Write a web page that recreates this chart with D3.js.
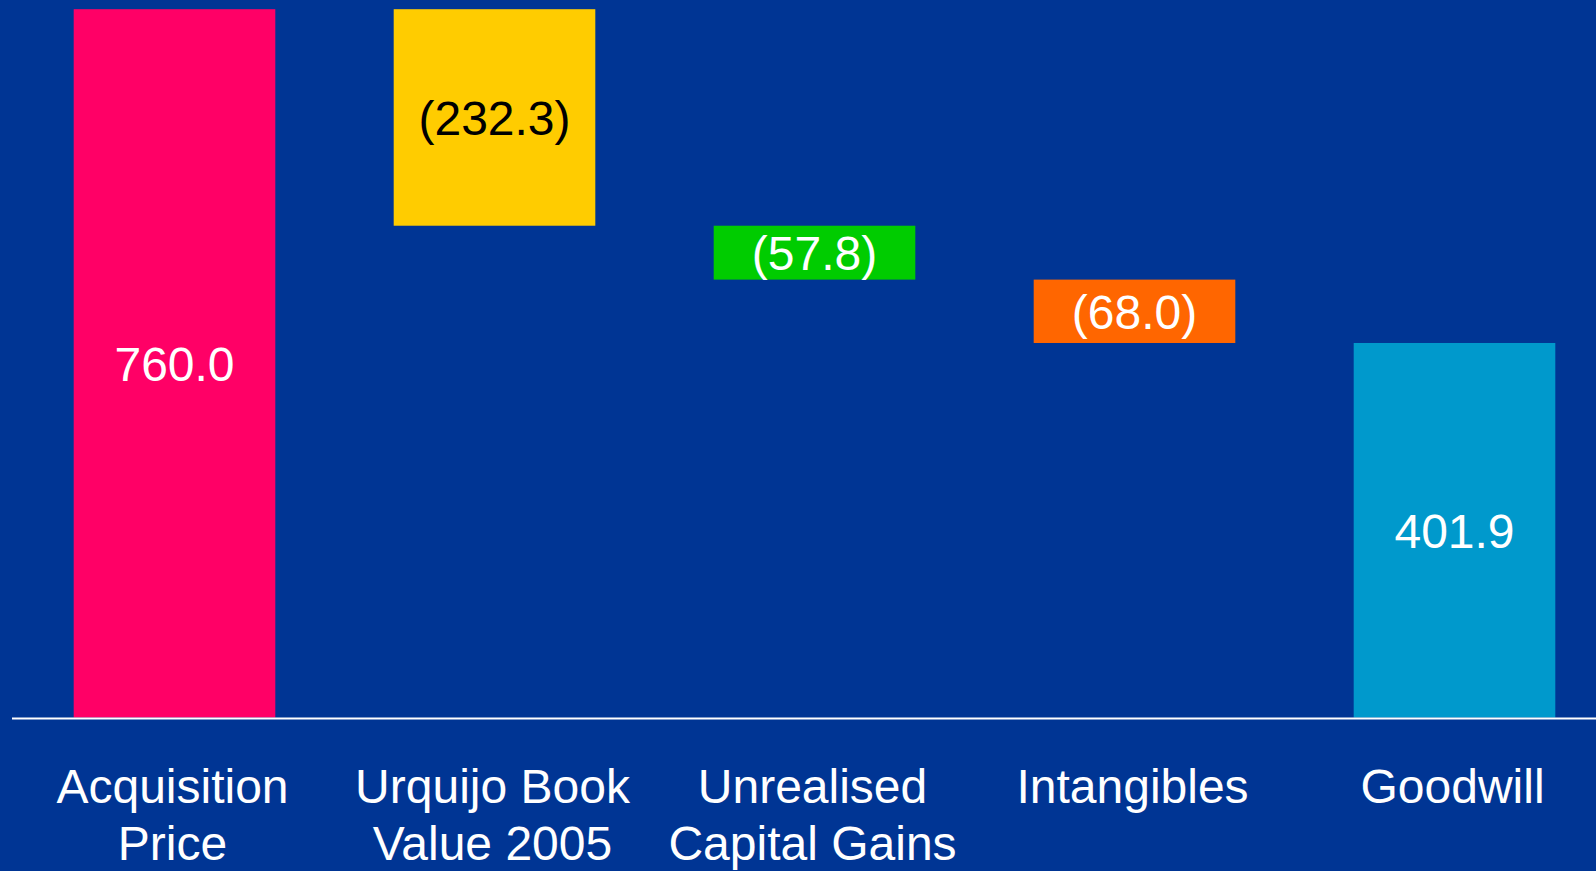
<!DOCTYPE html>
<html>
<head>
<meta charset="utf-8">
<script src="https://cdn.jsdelivr.net/npm/d3@7"></script>
<style>
  html, body { margin: 0; padding: 0; background: #003594; overflow: hidden; }
  svg { display: block; }
  text { font-family: "Liberation Sans", Arial, sans-serif; }
</style>
</head>
<body>
<svg id="chart" width="1596" height="871"></svg>
<script>
// Goodwill bridge: acquisition price less net assets acquired
const categories = ["Acquisition\nPrice", "Urquijo Book\nValue 2005", "Unrealised\nCapital Gains", "Intangibles", "Goodwill"];
const values = [760.0, -232.3, -57.8, -68.0, 401.9];
const kinds = ["total", "delta", "delta", "delta", "total"];
const barColors = ["#FF0066", "#FFCC00", "#00CC00", "#FF6600", "#0099CC"];
const labelColors = ["#FFFFFF", "#000000", "#FFFFFF", "#FFFFFF", "#FFFFFF"];

const W = 1596, H = 871;
const svg = d3.select("#chart");

// Waterfall segments: totals sit on zero, deltas hang from the running total
let running = 0;
const bars = categories.map((c, i) => {
  let y0, y1;
  if (kinds[i] === "total") { y0 = 0; y1 = values[i]; running = values[i]; }
  else { y0 = running; y1 = running + values[i]; running = y1; }
  return { cat: c, v: values[i], lo: Math.min(y0, y1), hi: Math.max(y0, y1), i };
});

const x = d3.scaleBand()
  .domain(categories)
  .range([14.5, 1614.5])
  .paddingInner(0.37)
  .paddingOuter(0.185);

const y = d3.scaleLinear()
  .domain([0, 760])
  .range([717.6, 9.2]);

const fmt = v => v < 0 ? "(" + d3.format(".1f")(-v) + ")" : d3.format(".1f")(v);

svg.append("rect").attr("width", W).attr("height", H).attr("fill", "#003594");

svg.selectAll("rect.bar")
  .data(bars)
  .join("rect")
  .attr("class", "bar")
  .attr("x", d => x(d.cat))
  .attr("width", x.bandwidth())
  .attr("y", d => y(d.hi))
  .attr("height", d => y(d.lo) - y(d.hi))
  .attr("fill", d => barColors[d.i]);

svg.selectAll("text.value")
  .data(bars)
  .join("text")
  .attr("class", "value")
  .attr("x", d => x(d.cat) + x.bandwidth() / 2)
  .attr("y", d => (y(d.lo) + y(d.hi)) / 2 + 17.5)
  .attr("text-anchor", "middle")
  .attr("font-size", 48)
  .attr("fill", d => labelColors[d.i])
  .text(d => fmt(d.v));

// zero baseline
svg.append("line")
  .attr("x1", 12).attr("x2", W)
  .attr("y1", y(0) + 1).attr("y2", y(0) + 1)
  .attr("stroke", "#FFFFFF")
  .attr("stroke-width", 2);

// category labels (two lines where needed)
const cat = svg.selectAll("text.cat")
  .data(categories)
  .join("text")
  .attr("class", "cat")
  .attr("text-anchor", "middle")
  .attr("font-size", 48)
  .attr("fill", "#FFFFFF")
  .attr("transform", d => `translate(${x(d) + x.bandwidth() / 2 - 2},802.7)`);

cat.selectAll("tspan")
  .data(d => d.split("\n"))
  .join("tspan")
  .attr("x", 0)
  .attr("y", (d, i) => i * 57.3)
  .text(d => d);
</script>
</body>
</html>
